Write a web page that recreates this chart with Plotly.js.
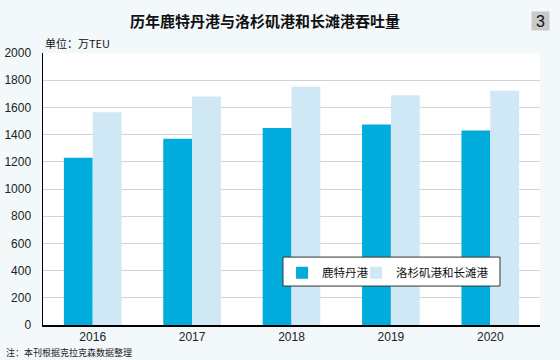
<!DOCTYPE html>
<html>
<head>
<meta charset="utf-8">
<script src="https://cdn.plot.ly/plotly-3.0.1.min.js"></script>
<style>html,body{margin:0;padding:0;background:#f3f8fb;}</style>
</head>
<body>
<div id="chart" style="width:560px;height:360px;"></div>
<script>
const years = ['2016', '2017', '2018', '2019', '2020'];
const rotterdam = [1230, 1370, 1448, 1474, 1430];
const laLongBeach = [1565, 1680, 1752, 1690, 1722];
const seriesNames = ['鹿特丹港', '洛杉矶港和长滩港'];
const yTicks = [0, 200, 400, 600, 800, 1000, 1200, 1400, 1600, 1800, 2000];

const font = 'Liberation Sans, Arial, "Noto Sans CJK SC", sans-serif';
const cjk = '"Noto Sans CJK SC", sans-serif';

const data = [
  {type: 'bar', x: years, y: rotterdam, name: seriesNames[0], legend: 'legend',
   marker: {color: '#00acdb', line: {width: 0}}},
  {type: 'bar', x: years, y: laLongBeach, name: seriesNames[1], legend: 'legend2',
   marker: {color: '#d0e7f5', line: {width: 0}}}
];

const legendBase = {
  orientation: 'h', y: 0.245, xanchor: 'left', yanchor: 'top',
  bgcolor: 'rgba(0,0,0,0)', borderwidth: 0,
  font: {family: cjk, size: 11.5, color: '#111'}, itemwidth: 30
};

const layout = {
  width: 560, height: 360,
  margin: {l: 43, r: 20, t: 53, b: 35, pad: 0},
  paper_bgcolor: '#f3f8fb',
  plot_bgcolor: '#ffffff',
  barmode: 'group',
  bargap: 0.42,
  bargroupgap: 0,
  showlegend: true,
  legend: Object.assign({}, legendBase, {x: 0.481}),
  legend2: Object.assign({}, legendBase, {x: 0.630}),
  xaxis: {
    type: 'category', showline: true, linecolor: '#000', linewidth: 1.5,
    ticks: '', showgrid: false,
    tickfont: {family: font, size: 12, color: '#222'}
  },
  yaxis: {
    range: [0, 2000], tickvals: yTicks, ticktext: yTicks.map(String),
    showline: true, linecolor: '#000', linewidth: 1.5, ticks: '',
    showgrid: true, gridcolor: '#d3d3d3', gridwidth: 1, zeroline: false,
    tickfont: {family: font, size: 12, color: '#222'}, ticklabelstandoff: 8
  },
  shapes: [
    {type: 'rect', xref: 'paper', yref: 'paper', x0: 0.4829, x1: 0.9195,
     y0: 0.1432, y1: 0.2497, fillcolor: '#ffffff',
     line: {color: '#333333', width: 1}, layer: 'above'}
  ],
  annotations: [
    {text: '<b>历年鹿特丹港与洛杉矶港和长滩港吞吐量</b>', xref: 'paper', yref: 'paper',
     x: 0.4467, y: 1, yshift: 33, xanchor: 'center', yanchor: 'middle', showarrow: false,
     font: {family: cjk, size: 15, color: '#111'}},
    {text: '3', xref: 'paper', yref: 'paper', x: 1, xshift: 0.5, y: 1, yshift: 32,
     xanchor: 'center', yanchor: 'middle', showarrow: false,
     width: 17, height: 18, bgcolor: '#c9c9c9', borderpad: 0,
     font: {family: font, size: 16, color: '#111'}},
    {text: '单位：万TEU', xref: 'paper', yref: 'paper', x: 0, y: 1, yshift: 10,
     xanchor: 'left', yanchor: 'middle', showarrow: false,
     font: {family: cjk, size: 11, color: '#111'}},
    {text: '注：本刊根据克拉克森数据整理', xref: 'paper', yref: 'paper', x: 0, xshift: -39,
     y: 0, yshift: -27, xanchor: 'left', yanchor: 'middle', showarrow: false,
     font: {family: cjk, size: 9, color: '#222'}}
  ]
};

Plotly.newPlot('chart', data, layout, {displayModeBar: false, staticPlot: true});
</script>
</body>
</html>
